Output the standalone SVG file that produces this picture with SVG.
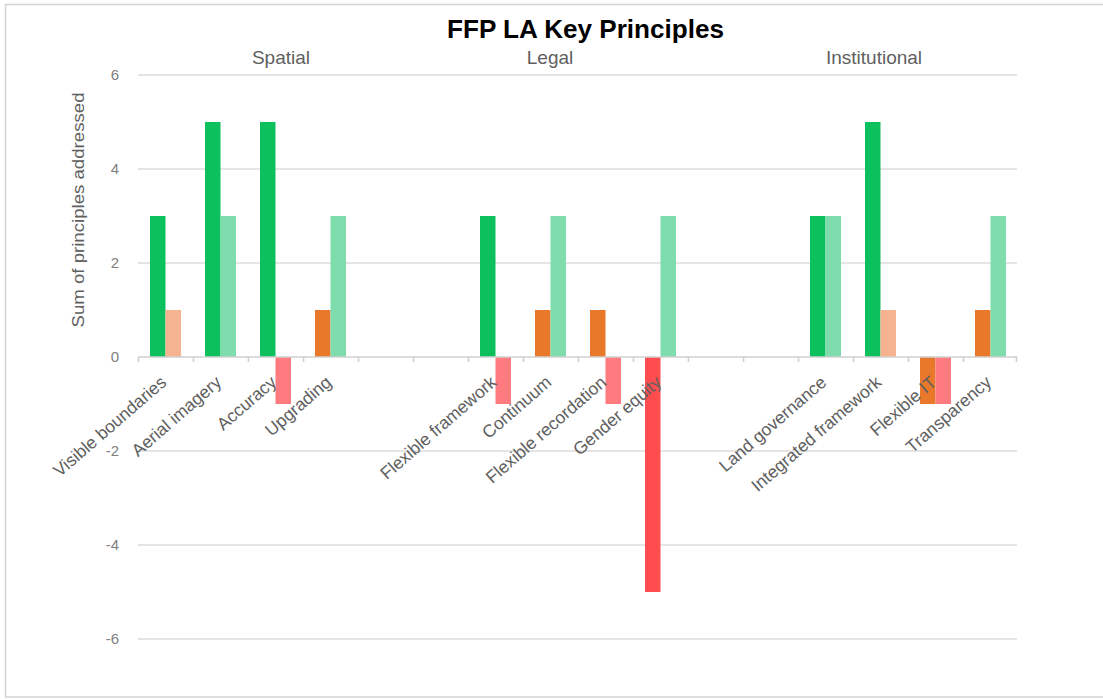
<svg xmlns="http://www.w3.org/2000/svg" width="1103" height="699" viewBox="0 0 1103 699">
<style>
.grid{stroke:#dcdcdc;stroke-width:1.6;fill:none}
.axis{stroke:#d0d0d0;stroke-width:1.6;fill:none}
.tick{font-family:"Liberation Sans",Arial,sans-serif;font-size:15px;fill:#808080;text-anchor:end}
.cat{font-family:"Liberation Sans",Arial,sans-serif;font-size:17.5px;fill:#606060;text-anchor:end}
.grp{font-family:"Liberation Sans",Arial,sans-serif;font-size:19px;fill:#606060;text-anchor:middle}
.title{font-family:"Liberation Sans",Arial,sans-serif;font-size:25px;font-weight:bold;fill:#000;text-anchor:middle}
.ytitle{font-family:"Liberation Sans",Arial,sans-serif;font-size:17px;fill:#606060;text-anchor:middle}
.dg{fill:#0cc05d}.lg{fill:#7edcad}.pe{fill:#f5b48f}.or{fill:#e9782b}.pk{fill:#ff7b80}.rd{fill:#ff4d4f}
</style>
<rect x="0" y="0" width="1103" height="699" fill="#ffffff"/>
<rect x="5.5" y="4.5" width="1110" height="692.5" fill="none" stroke="#d4d4d4" stroke-width="1.5"/>
<g id="title"><text class="title" x="585.5" y="38" textLength="277" lengthAdjust="spacingAndGlyphs">FFP LA Key Principles</text></g>
<g id="groups">
<text class="grp" x="281" y="64">Spatial</text>
<text class="grp" x="550" y="64">Legal</text>
<text class="grp" x="874" y="64">Institutional</text>
</g>
<g id="gridlines">
<line class="grid" x1="138" y1="75" x2="1017" y2="75"/>
<line class="grid" x1="138" y1="169" x2="1017" y2="169"/>
<line class="grid" x1="138" y1="263" x2="1017" y2="263"/>
<line class="grid" x1="138" y1="451" x2="1017" y2="451"/>
<line class="grid" x1="138" y1="545" x2="1017" y2="545"/>
<line class="grid" x1="138" y1="639" x2="1017" y2="639"/>
</g>
<g id="yaxis">
<text class="tick" x="119" y="80">6</text>
<text class="tick" x="119" y="174">4</text>
<text class="tick" x="119" y="268">2</text>
<text class="tick" x="119" y="362">0</text>
<text class="tick" x="119" y="456">-2</text>
<text class="tick" x="119" y="550">-4</text>
<text class="tick" x="119" y="644">-6</text>
<text class="ytitle" transform="translate(84,210) rotate(-90)" textLength="235" lengthAdjust="spacingAndGlyphs">Sum of principles addressed</text>
</g>
<g id="bars">
<rect class="dg" x="150" y="216" width="15.5" height="141"/>
<rect class="pe" x="165.5" y="310" width="15.5" height="47"/>
<rect class="dg" x="205" y="122" width="15.5" height="235"/>
<rect class="lg" x="220.5" y="216" width="15.5" height="141"/>
<rect class="dg" x="260" y="122" width="15.5" height="235"/>
<rect class="pk" x="275.5" y="357" width="15.5" height="47"/>
<rect class="or" x="315" y="310" width="15.5" height="47"/>
<rect class="lg" x="330.5" y="216" width="15.5" height="141"/>
<rect class="dg" x="480" y="216" width="15.5" height="141"/>
<rect class="pk" x="495.5" y="357" width="15.5" height="47"/>
<rect class="or" x="535" y="310" width="15.5" height="47"/>
<rect class="lg" x="550.5" y="216" width="15.5" height="141"/>
<rect class="or" x="590" y="310" width="15.5" height="47"/>
<rect class="pk" x="605.5" y="357" width="15.5" height="47"/>
<rect class="rd" x="645" y="357" width="15.5" height="235"/>
<rect class="lg" x="660.5" y="216" width="15.5" height="141"/>
<rect class="dg" x="810" y="216" width="15.5" height="141"/>
<rect class="lg" x="825.5" y="216" width="15.5" height="141"/>
<rect class="dg" x="865" y="122" width="15.5" height="235"/>
<rect class="pe" x="880.5" y="310" width="15.5" height="47"/>
<rect class="or" x="920" y="357" width="15.5" height="47"/>
<rect class="pk" x="935.5" y="357" width="15.5" height="47"/>
<rect class="or" x="975" y="310" width="15.5" height="47"/>
<rect class="lg" x="990.5" y="216" width="15.5" height="141"/>
</g>
<g id="xaxis">
<line class="axis" x1="138" y1="357" x2="1017" y2="357"/>
<path class="axis" stroke-width="1" d="M138.5 357v5M193.5 357v5M248.5 357v5M303.5 357v5M358.5 357v5M413.5 357v5M468.5 357v5M523.5 357v5M578.5 357v5M633.5 357v5M688.5 357v5M743.5 357v5M798.5 357v5M853.5 357v5M908.5 357v5M963.5 357v5M1016.5 357v5"/>
</g>
<g id="xlabels">
<text class="cat" transform="translate(167.5,384) rotate(-41)">Visible boundaries</text>
<text class="cat" transform="translate(222.5,384) rotate(-41)">Aerial imagery</text>
<text class="cat" transform="translate(277.5,384) rotate(-41)">Accuracy</text>
<text class="cat" transform="translate(332.5,384) rotate(-41)">Upgrading</text>
<text class="cat" transform="translate(497.5,384) rotate(-41)">Flexible framework</text>
<text class="cat" transform="translate(552.5,384) rotate(-41)">Continuum</text>
<text class="cat" transform="translate(607.5,384) rotate(-41)">Flexible recordation</text>
<text class="cat" transform="translate(662.5,384) rotate(-41)">Gender equity</text>
<text class="cat" transform="translate(827.5,384) rotate(-41)">Land governance</text>
<text class="cat" transform="translate(882.5,384) rotate(-41)">Integrated framework</text>
<text class="cat" transform="translate(937.5,384) rotate(-41)">Flexible IT</text>
<text class="cat" transform="translate(992.5,384) rotate(-41)">Transparency</text>
</g>
</svg>
